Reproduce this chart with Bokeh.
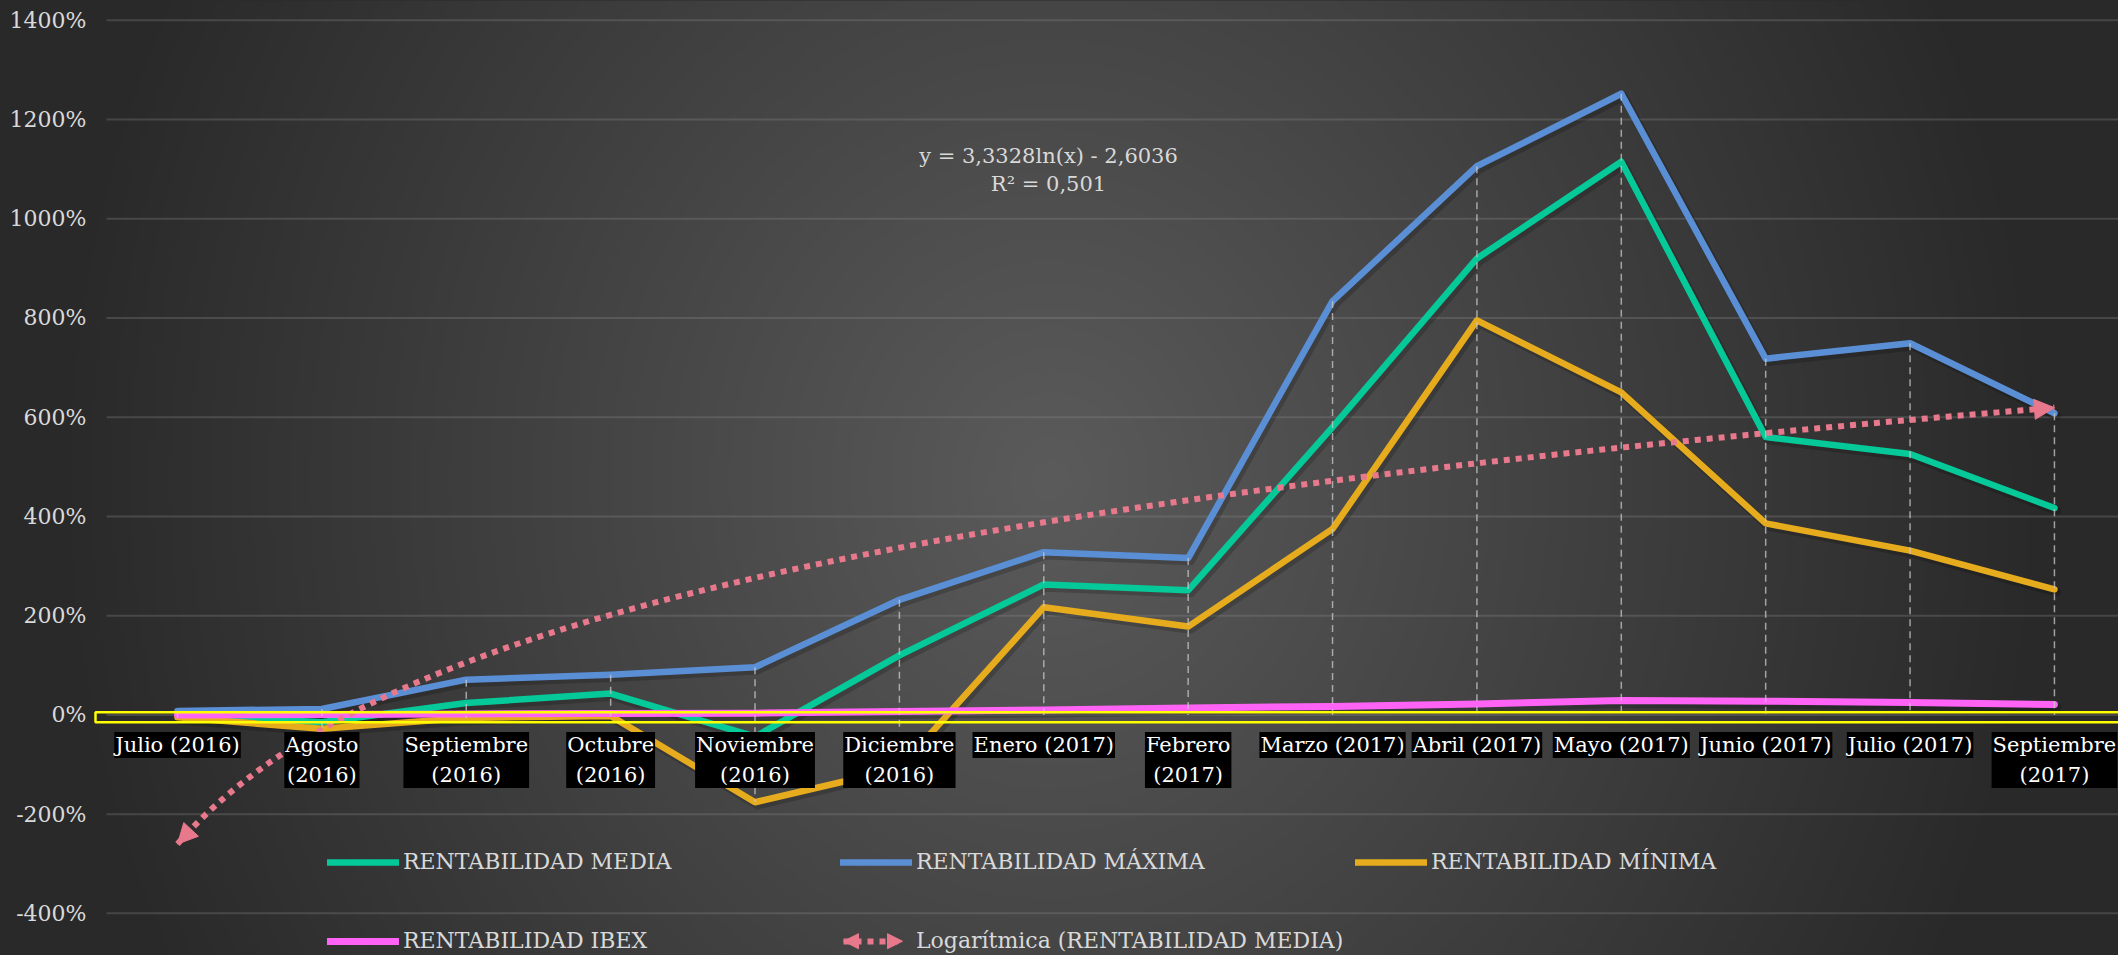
import numpy as np
from bokeh.plotting import figure
from bokeh.models import (Range1d, BoxAnnotation, Arrow, NormalHead, Legend, LegendItem,
                          ColumnDataSource)
from bokeh.transform import dodge
from bokeh.core.properties import value
from bokeh.embed import file_html
from bokeh.resources import INLINE

# ---------------- data ----------------
categories = ["Julio (2016)", "Agosto (2016)", "Septiembre (2016)", "Octubre (2016)",
              "Noviembre (2016)", "Diciembre (2016)", "Enero (2017)", "Febrero (2017)",
              "Marzo (2017)", "Abril (2017)", "Mayo (2017)", "Junio (2017)",
              "Julio (2017)", "Septiembre (2017)"]
tick_labels = ["Julio (2016)", "Agosto\n(2016)", "Septiembre\n(2016)", "Octubre\n(2016)",
               "Noviembre\n(2016)", "Diciembre\n(2016)", "Enero (2017)", "Febrero\n(2017)",
               "Marzo (2017)", "Abril (2017)", "Mayo (2017)", "Junio (2017)",
               "Julio (2017)", "Septiembre\n(2017)"]
media = [0, -15, 24, 43, -44, 120, 263, 251, 580, 920, 1115, 560, 526, 417]
maxima = [8, 12, 71, 81, 96, 232, 328, 316, 834, 1106, 1252, 718, 749, 608]
minima = [-5, -28, -6, -2, -176, -108, 217, 178, 375, 795, 650, 386, 331, 253]
ibex = [0, 1, 2, 3, 3.5, 7, 10, 14, 17, 22, 29, 27.6, 25, 21]
y_ticks = [-400, -200, 0, 200, 400, 600, 800, 1000, 1200, 1400]
y_tick_labels = [f"{t}%" for t in y_ticks]
trend_a = 3.3328
trend_b = -2.6036
equation_lines = ["y = 3,3328ln(x) - 2,6036", "R² = 0,501"]
series_names = ["RENTABILIDAD MEDIA", "RENTABILIDAD MÁXIMA", "RENTABILIDAD MÍNIMA",
                "RENTABILIDAD IBEX", "Logarítmica (RENTABILIDAD MEDIA)"]

# ---------------- style / layout ----------------
GREEN = "#05C998"
BLUE = "#5A8FD6"
YELLOW = "#E6AC1E"
PINK = "#FF63F6"
TREND = "#E8788C"
TXT = "#D9D9D9"
FONT = "DejaVu Serif"
FS = "21px"
EDGE = "#2b2b2b"

W, H = 2118, 955
PLOT_LEFT = 106          # left end of the plot area (gridlines start here)
CAT0, CAT_STEP = 177, 144.38   # pixel of the first category and spacing
ZERO_PX, PX_PER_PCT = 714.4, 0.49615

X0 = (0 - CAT0) / CAT_STEP
X1 = (W - CAT0) / CAT_STEP
Y1 = ZERO_PX / PX_PER_PCT
Y0 = -(H - ZERO_PX) / PX_PER_PCT


def dx(px):
    return X0 + px / W * (X1 - X0)


def dy(py):
    return Y1 - py / H * (Y1 - Y0)


p = figure(width=W, height=H, output_backend="svg", toolbar_location=None,
           x_range=Range1d(X0, X1), y_range=Range1d(Y0, Y1),
           x_axis_location=None, y_axis_location=None)
p.min_border = 0
p.outline_line_color = None
p.border_fill_color = EDGE
p.background_fill_color = EDGE
p.styles = {"background-color": EDGE}
p.xgrid.grid_line_color = None
p.ygrid.grid_line_color = None

# background radial gradient (oversized so its edges are clipped)
ny, nx = 260, 560
pad = 30
rows = np.arange(ny)
cols = np.arange(nx)
fy = (H + pad) - (rows + 0.5) * (H + 2 * pad) / ny
fx = -pad + (cols + 0.5) * (W + 2 * pad) / nx
GX, GY = np.meshgrid(fx, fy)
d = np.sqrt(((GX - 1050) / 1000.0) ** 2 + ((GY - 480) / 1100.0) ** 2)
inten = (41 + 50 * np.clip(1 - d, 0, 1)).astype(np.uint8)
img = np.empty((ny, nx), dtype=np.uint32)
view = img.view(dtype=np.uint8).reshape((ny, nx, 4))
view[:, :, 0] = inten
view[:, :, 1] = inten
view[:, :, 2] = inten
view[:, :, 3] = 255
bx0, bx1 = dx(-pad), dx(W + pad)
by0, by1 = dy(H + pad), dy(-pad)
bg = p.image_rgba(image=[img], x=bx0, y=by0, dw=bx1 - bx0, dh=by1 - by0)
bg.level = "image"

# value axis: gridlines + labels
p.segment(x0=[dx(PLOT_LEFT)] * len(y_ticks), y0=y_ticks, x1=[X1 + 1] * len(y_ticks),
          y1=y_ticks, line_color="#8a8a8a", line_alpha=0.3, line_width=2)
p.text(x=[dx(PLOT_LEFT - 20)] * len(y_ticks), y=y_ticks, text=y_tick_labels,
       text_font=value(FONT), text_font_size="22px", text_color=TXT,
       text_align="right", text_baseline="middle")

idx = list(range(len(categories)))
series = [(media, GREEN, 6.5), (maxima, BLUE, 6.5), (minima, YELLOW, 6.5), (ibex, PINK, 7)]

# soft shadows under the series lines
for vals, col, w in series:
    src = ColumnDataSource(dict(x=idx, y=vals))
    p.line(x=dodge("x", 2.5 / CAT_STEP), y=dodge("y", -3 / PX_PER_PCT), source=src,
           line_color="black", line_alpha=0.18, line_width=w + 2,
           line_join="round", line_cap="round")

renderers = []
for vals, col, w in series:
    renderers.append(p.line(idx, vals, line_color=col, line_width=w,
                            line_join="round", line_cap="round"))
r_media, r_max, r_min, r_ibex = renderers

# drop lines
all_series = np.array([media, maxima, minima, ibex], dtype=float)
tops = all_series.max(axis=0)
bots = np.minimum(all_series.min(axis=0), 0)
p.segment(x0=idx, y0=tops, x1=idx, y1=bots, line_color="#C8C8C8", line_alpha=0.75,
          line_width=1.5, line_dash="7 5")

# logarithmic trendline (from the displayed equation)
tx = np.linspace(1, len(categories), 300)
ty = 100 * (trend_a * np.log(tx) + trend_b)
r_trend = p.line(tx - 1, ty, line_color=TREND, line_width=6, line_dash="6 6")
head_kw = dict(size=20, fill_color=TREND, line_color=TREND, line_width=1)
p.add_layout(Arrow(end=NormalHead(**head_kw), x_start=tx[-4] - 1, y_start=ty[-4],
                   x_end=tx[-1] - 1, y_end=ty[-1], line_alpha=0))
p.add_layout(Arrow(end=NormalHead(**head_kw), x_start=tx[3] - 1, y_start=ty[3],
                   x_end=tx[0] - 1, y_end=ty[0], line_alpha=0))

# equation text
p.text(x=[dx(1048), dx(1048)], y=[dy(155), dy(183)], text=equation_lines,
       text_font=value(FONT), text_font_size=FS, text_color=TXT,
       text_align="center", text_baseline="middle")

# category labels (black boxes at the 0% line)
p.text(x=idx, y=[0] * len(idx), text=tick_labels, y_offset=17,
       text_font=value(FONT), text_font_size=FS, text_color="white",
       text_align="center", text_baseline="top", text_line_height=1.25,
       background_fill_color="black", padding=1)

# yellow highlight box around the 0% line
p.add_layout(BoxAnnotation(left=dx(95), right=X1 + 1, top=5.4, bottom=-14.7,
                           fill_alpha=0, line_color="#FFFF00", line_alpha=1,
                           line_width=2.5))

# legends
leg_kw = dict(glyph_height=10, label_text_font=FONT,
              label_text_font_size="22px", label_text_color=TXT,
              background_fill_alpha=0, border_line_alpha=0, padding=0, margin=0,
              orientation="horizontal")
ROW1, ROW2 = 81, 2
legend_specs = [
    (series_names[0], r_media, (327, ROW1), 72, 4),
    (series_names[1], r_max, (840, ROW1), 72, 4),
    (series_names[2], r_min, (1355, ROW1), 72, 4),
    (series_names[3], r_ibex, (327, ROW2), 72, 4),
    (series_names[4], r_trend, (843, ROW2), 60, 13),
]
for name, rend, loc, gw, so in legend_specs:
    lg = Legend(items=[LegendItem(label=name, renderers=[rend])], location=loc,
                glyph_width=gw, label_standoff=so, **leg_kw)
    p.add_layout(lg, "center")

# arrowheads of the trendline legend swatch
sw_y = dy(940.7)
sw_head = dict(size=15, fill_color=TREND, line_color=TREND, line_width=1)
p.add_layout(Arrow(end=NormalHead(**sw_head), x_start=dx(856), y_start=sw_y,
                   x_end=dx(843), y_end=sw_y, line_alpha=0))
p.add_layout(Arrow(end=NormalHead(**sw_head), x_start=dx(889), y_start=sw_y,
                   x_end=dx(902), y_end=sw_y, line_alpha=0))

open("out.html", "w").write(file_html(p, INLINE))
